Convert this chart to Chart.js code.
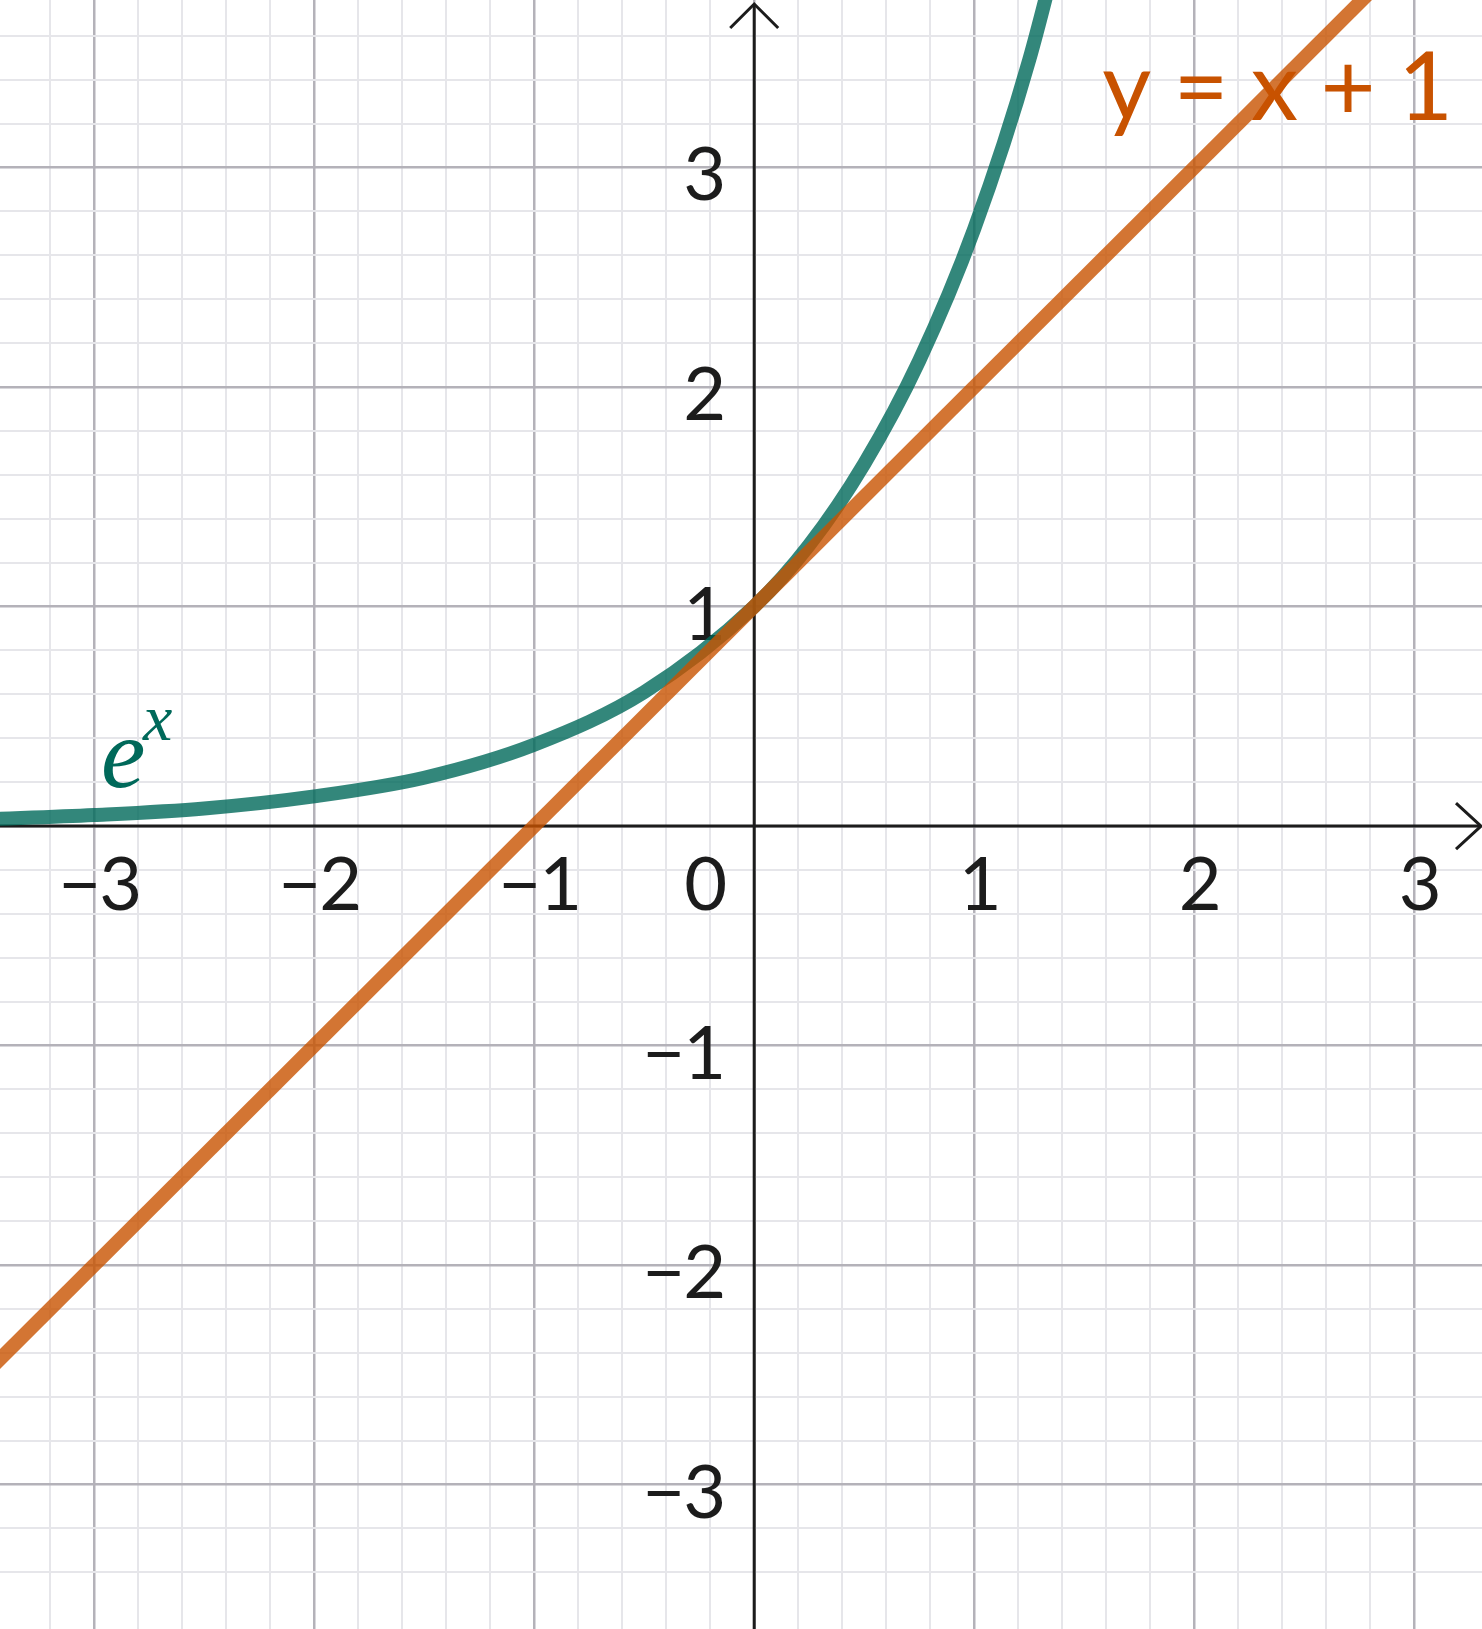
<!DOCTYPE html>
<html>
<head>
<meta charset="utf-8">
<script src="https://cdn.jsdelivr.net/npm/chart.js@4.4.1/dist/chart.umd.min.js"></script>
<style>
  html, body { margin: 0; padding: 0; background: #fff; }
  #graph { display: block; }
</style>
</head>
<body>
<canvas id="graph" width="1482" height="1629"></canvas>
<script>
/*** Data ***/
const expX = [-3.5, -3, -2.5, -2, -1.5, -1, -0.5, 0, 0.25, 0.5, 0.75, 1, 1.25, 1.5];
const expY = [0.03, 0.05, 0.08, 0.135, 0.22, 0.37, 0.61, 1, 1.28, 1.65, 2.12, 2.72, 3.49, 4.48];
const lineX = [-3.5, 3];
const lineY = [-2.5, 4];
const xTickValues = [-3, -2, -1, 1, 2, 3];
const yTickValues = [-3, -2, -1, 1, 2, 3];
const expLabel = ['e', 'x'];
const lineLabel = 'y = x + 1';

/*** Colours ***/
const tealText = '#00695a';
const orangeText = '#c85200';
const tealLine = 'rgba(0, 105, 90, 0.8)';
const orangeLine = 'rgba(200, 82, 0, 0.8)';
const majorGrid = '#b4b2b9';
const minorGrid = '#e6e6ea';
const axisColor = '#1c1c1c';
const tickFont = 'normal 74px Lato';

function toPoints(xs, ys) {
    return xs.map(function (x, i) { return { x: x, y: ys[i] }; });
}

function gridColor(context) {
    const v = context.tick.value;
    if (Math.abs(v - Math.round(v)) < 1e-6) return majorGrid;
    if (Math.abs(v * 5 - Math.round(v * 5)) < 1e-6) return minorGrid;
    return 'rgba(0,0,0,0)';
}

function gridWidth(context) {
    const v = context.tick.value;
    return Math.abs(v - Math.round(v)) < 1e-6 ? 2.5 : 2;
}

function minus(v) {
    return v < 0 ? '\u2212' + Math.abs(v) : String(v);
}

/*** Axes, arrows and labels, drawn under the curves ***/
const axesPlugin = {
    id: 'axesPlugin',
    beforeDatasetsDraw(chart) {
        const ctx = chart.ctx;
        const xs = chart.scales.x;
        const ys = chart.scales.y;
        const area = chart.chartArea;
        const ox = xs.getPixelForValue(0);
        const oy = ys.getPixelForValue(0);

        ctx.save();
        ctx.strokeStyle = axisColor;
        ctx.lineWidth = 3;
        ctx.lineCap = 'butt';
        ctx.beginPath();
        ctx.moveTo(area.left, oy);
        ctx.lineTo(area.right - 1, oy);
        ctx.moveTo(ox, area.bottom);
        ctx.lineTo(ox, area.top + 4);
        ctx.stroke();

        // arrow heads
        ctx.beginPath();
        ctx.moveTo(area.right - 26, oy - 23);
        ctx.lineTo(area.right - 1, oy);
        ctx.lineTo(area.right - 26, oy + 23);
        ctx.moveTo(ox - 24, area.top + 28);
        ctx.lineTo(ox, area.top + 4);
        ctx.lineTo(ox + 24, area.top + 28);
        ctx.stroke();

        // tick labels
        ctx.fillStyle = axisColor;
        ctx.font = tickFont;
        ctx.textBaseline = 'alphabetic';
        ctx.textAlign = 'center';
        ctx.letterSpacing = '-2px';
        xTickValues.forEach(function (v) {
            ctx.fillText(minus(v), xs.getPixelForValue(v) + 5, oy + 84);
        });
        ctx.textAlign = 'right';
        yTickValues.forEach(function (v) {
            ctx.fillText(minus(v), ox - 30, ys.getPixelForValue(v) + 33);
        });
        ctx.fillText('0', ox - 29, oy + 84);

        // curve labels
        ctx.fillStyle = orangeText;
        ctx.font = 'normal 95px Lato';
        ctx.letterSpacing = '-1px';
        ctx.textAlign = 'right';
        ctx.fillText(lineLabel, 1452, 120);
        ctx.letterSpacing = '0px';

        ctx.fillStyle = tealText;
        ctx.textAlign = 'left';
        ctx.font = 'italic 100px "Liberation Serif"';
        ctx.fillText(expLabel[0], 101, 787);
        ctx.font = 'italic 66px "Liberation Serif"';
        ctx.fillText(expLabel[1], 143, 740);
        ctx.restore();
    }
};

/*** Chart ***/
const graph = new Chart(document.getElementById('graph'), {
    type: 'scatter',
    data: {
        datasets: [
            {
                label: 'e^x',
                data: toPoints(expX, expY),
                showLine: true,
                borderColor: tealLine,
                borderWidth: 14,
                pointRadius: 0,
                cubicInterpolationMode: 'monotone',
                order: 2
            },
            {
                label: 'y = x + 1',
                data: toPoints(lineX, lineY),
                showLine: true,
                borderColor: orangeLine,
                borderWidth: 14,
                pointRadius: 0,
                order: 1
            }
        ]
    },
    options: {
        responsive: false,
        animation: false,
        devicePixelRatio: 1,
        layout: { padding: 0 },
        plugins: {
            legend: { display: false },
            tooltip: { enabled: false }
        },
        scales: {
            x: {
                type: 'linear',
                min: -3.428,
                max: 3.308,
                ticks: { stepSize: 0.2, display: false },
                grid: { color: gridColor, lineWidth: gridWidth, drawTicks: false },
                border: { display: false }
            },
            y: {
                type: 'linear',
                min: -3.658,
                max: 3.763,
                ticks: { stepSize: 0.2, display: false },
                grid: { color: gridColor, lineWidth: gridWidth, drawTicks: false },
                border: { display: false }
            }
        }
    },
    plugins: [axesPlugin]
});
</script>
</body>
</html>
